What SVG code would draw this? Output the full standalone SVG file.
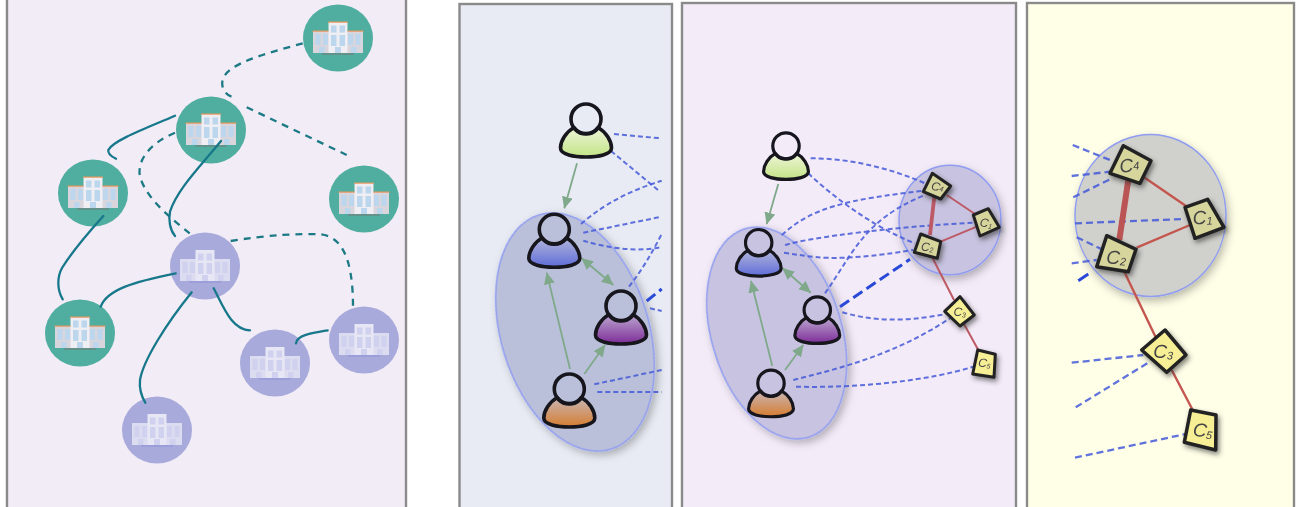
<svg xmlns="http://www.w3.org/2000/svg" width="1298" height="507" viewBox="0 0 1298 507">
<style>
.panel{stroke:#8a8a8a;stroke-width:2.4}
.teal{fill:#4fae9f}.lilac{fill:#a7aadb}
.solid{fill:none;stroke:#17788a;stroke-width:2.3;stroke-linecap:round}
.dash{fill:none;stroke:#1d7a85;stroke-width:2.3;stroke-dasharray:7 6}
.sig{fill:none;stroke:#4459d8;stroke-width:2;stroke-dasharray:5 3;opacity:.85}
.sig2{stroke-width:2.3;stroke-dasharray:7 4}
.thick{fill:none;stroke:#2a49d8;stroke-width:3;stroke-dasharray:11 5}
.arrow{stroke:#7fa98a;stroke-width:1.8;fill:none}
.rel{stroke:#bd5a66;stroke-width:2;fill:none}
.rel4{stroke:#c4574f;stroke-width:2.4;fill:none}
.body,.head{stroke:#15151f;stroke-width:3.6;stroke-linejoin:round}
.head{fill:none}
.cl{stroke:#8f9cf0;stroke-width:1.5;filter:url(#sh)}
.sq{stroke:#222;stroke-linejoin:round;filter:url(#sq)}
.sq.a{fill:#d6d59c}.sq.b{fill:#f6ef96}
.lb{font-family:"Liberation Sans",Arial,sans-serif;font-style:italic;fill:#444;text-anchor:middle}
</style>
<defs>
<filter id="soft" filterUnits="userSpaceOnUse" x="0" y="0" width="1298" height="507"><feGaussianBlur stdDeviation="0.5"/></filter>
<filter id="sh" x="-20%" y="-20%" width="145%" height="145%"><feDropShadow dx="2" dy="4" stdDeviation="4" flood-color="#000" flood-opacity=".28"/></filter>
<filter id="sq" x="-40%" y="-40%" width="190%" height="190%"><feDropShadow dx="2" dy="3" stdDeviation="2.5" flood-color="#333" flood-opacity=".6"/></filter>
<linearGradient id="gG" x1="0" y1="0" x2="0" y2="1"><stop offset="0" stop-color="#eef4d8"/><stop offset="1" stop-color="#c3e486"/></linearGradient>
<linearGradient id="gB" x1="0" y1="0" x2="0" y2="1"><stop offset="0" stop-color="#b2b6da"/><stop offset="1" stop-color="#5e6cd8"/></linearGradient>
<linearGradient id="gP" x1="0" y1="0" x2="0" y2="1"><stop offset="0" stop-color="#bba6cf"/><stop offset="1" stop-color="#7d2c98"/></linearGradient>
<linearGradient id="gO" x1="0" y1="0" x2="0" y2="1"><stop offset="0" stop-color="#c9b6b4"/><stop offset="1" stop-color="#d67d30"/></linearGradient>
<marker id="ah" markerUnits="userSpaceOnUse" markerWidth="13" markerHeight="12" refX="11.5" refY="5.5" orient="auto-start-reverse"><path d="M0,0 L12,5.5 L0,11 Z" fill="#7fa98a"/></marker>
<path id="body" d="M-12,8.5 C-20,13 -25.5,22 -25.5,29 C-25.5,35.5 -12,38 0,38 C12,38 25.5,35.5 25.5,29 C25.5,22 20,13 12,8.5 A15,15 0 0 1 -12,8.5 Z"/>
<circle id="head" r="15"/>
<g id="bldT">
<rect x="-25" y="-7" width="50" height="22" fill="#d8d5dd"/>
<rect x="-9.5" y="-16" width="19" height="31" fill="#efeef3"/>
<rect x="-25.5" y="-7.5" width="16" height="1.2" fill="#e8955a"/><rect x="9.5" y="-7.5" width="16" height="1.2" fill="#e8955a"/><rect x="-10" y="-16.5" width="20" height="1.2" fill="#e8955a"/>
<g fill="#bcd6ee"><rect x="-7" y="-12.5" width="5.5" height="7"/><rect x="1.5" y="-12.5" width="5.5" height="7"/><rect x="-7" y="-3" width="5.5" height="11"/><rect x="1.5" y="-3" width="5.5" height="11"/><rect x="-22.5" y="-4" width="5" height="11"/><rect x="-15" y="-4" width="5" height="11"/><rect x="10" y="-4" width="5" height="11"/><rect x="17.5" y="-4" width="5" height="11"/><rect x="-19" y="9" width="5.5" height="6"/><rect x="-3" y="9" width="6" height="6"/><rect x="13" y="9" width="5.5" height="6"/></g>
<rect x="-16" y="15.5" width="32" height="1" fill="#777"/>
</g>
<g id="bldL">
<rect x="-25" y="-7" width="50" height="22" fill="#dcdcf1"/>
<rect x="-9.5" y="-16" width="19" height="31" fill="#e6e6f5"/>
<g fill="#d0d1ee"><rect x="-7" y="-12.5" width="5.5" height="7"/><rect x="1.5" y="-12.5" width="5.5" height="7"/><rect x="-7" y="-3" width="5.5" height="11"/><rect x="1.5" y="-3" width="5.5" height="11"/><rect x="-22.5" y="-4" width="5" height="11"/><rect x="-15" y="-4" width="5" height="11"/><rect x="10" y="-4" width="5" height="11"/><rect x="17.5" y="-4" width="5" height="11"/><rect x="-19" y="9" width="5.5" height="6"/><rect x="-3" y="9" width="6" height="6"/><rect x="13" y="9" width="5.5" height="6"/></g>
<rect x="-16" y="15.5" width="32" height="1" fill="#8f92d8"/>
</g>
</defs>

<g filter="url(#soft)">
<g id="panels">
<rect class="panel" x="7" y="-6" width="399" height="520" fill="#f2ecf7"/>
<rect class="panel" x="459.5" y="4" width="212.5" height="510" fill="#e8ebf3"/>
<rect class="panel" x="682" y="3" width="334" height="511" fill="#f3ebf8"/>
<rect class="panel" x="1027" y="3" width="267" height="511" fill="#ffffe8"/>
</g>

<g id="clusters">
<ellipse id="cluster-users-a" class="cl" cx="575" cy="332" rx="74" ry="122.5" transform="rotate(-17 575 332)" fill="#bbc0da"/>
<ellipse id="cluster-users-b" class="cl" cx="776.7" cy="333" rx="65" ry="109" transform="rotate(-17 776.7 333)" fill="#c8c3e0"/>
<ellipse id="cluster-c-b" class="cl" cx="950" cy="220" rx="51" ry="54.7" fill="#c8c3e0"/>
<ellipse id="cluster-c-c" class="cl" cx="1150.5" cy="215.5" rx="75.5" ry="81" fill="#d0d1cc"/>
</g>

<g id="server-1" transform="translate(338,38)"><ellipse class="teal" rx="35" ry="33.5"/><use href="#bldT"/></g>
<g id="server-2" transform="translate(211,130)"><ellipse class="teal" rx="35" ry="33.5"/><use href="#bldT"/></g>
<g id="server-3" transform="translate(93,193)"><ellipse class="teal" rx="35" ry="33.5"/><use href="#bldT"/></g>
<g id="server-4" transform="translate(364,199)"><ellipse class="teal" rx="35" ry="33.5"/><use href="#bldT"/></g>
<g id="server-5" transform="translate(80,333)"><ellipse class="teal" rx="35" ry="33.5"/><use href="#bldT"/></g>
<g id="server-6" transform="translate(205,266)"><ellipse class="lilac" rx="35" ry="33.5"/><use href="#bldL"/></g>
<g id="server-7" transform="translate(275,363)"><ellipse class="lilac" rx="35" ry="33.5"/><use href="#bldL"/></g>
<g id="server-8" transform="translate(364,340)"><ellipse class="lilac" rx="35" ry="33.5"/><use href="#bldL"/></g>
<g id="server-9" transform="translate(157,430)"><ellipse class="lilac" rx="35" ry="33.5"/><use href="#bldL"/></g>

<g id="connectors">
<path class="dash" d="M302.7,43.3 C266.7,53.3 226.7,63.3 222.7,80 C220.7,86.7 225,95 231.7,96.7"/>
<path class="dash" d="M246.7,107.3 L346.7,155"/>
<path class="dash" d="M175,132.7 C150,143.3 136.7,160 140,176.7 C146.7,200 173.3,220 191.7,235"/>
<path class="dash" d="M230.7,241 C266.7,235 300,233.3 320,234.3 C340,236 353,255 353,306.7"/>
<path class="solid" d="M175,115.7 C150,126.7 113.3,140 108.3,150 C107.7,154 111.7,156.7 116,158.7"/>
<path class="solid" d="M221,141 C200,166.7 176.7,190 170,211.7 C168.3,220 170,230 175,236"/>
<path class="solid" d="M103.3,216 C88,233 70,255 62,268 C57,277 57,290 62.7,299.3"/>
<path class="solid" d="M175.7,273.3 C133.3,281.7 106.7,290 100.7,306.7"/>
<path class="solid" d="M191.7,292.3 C166.7,323.3 143.3,360 140,380 C139,390 141.7,396.7 145.3,402.7"/>
<path class="solid" d="M213.7,288.3 C223.3,306.7 231.7,330 250,330.3"/>
<path class="solid" d="M327.7,330.3 C313.3,332.7 296.7,335 296,343.3"/>

<path class="arrow" marker-end="url(#ah)" d="M577,163.3 L564.3,208.3"/>
<path class="arrow" marker-end="url(#ah)" d="M570,369 L546.7,272.7"/>
<path class="arrow" marker-end="url(#ah)" d="M584.3,374 L605,345"/>
<path class="arrow" marker-start="url(#ah)" marker-end="url(#ah)" d="M581.7,258.3 L613.3,285"/>
<path class="sig" d="M614,134 L661,138.3"/>
<path class="sig" d="M611,151 L660,191.7"/>
<path class="sig" d="M581,224 C605,203 632,190 661.7,180.7"/>
<path class="sig" d="M583.3,232.7 L661.7,216.7"/>
<path class="sig" d="M583.3,240.7 C605,247 635,253 661.7,247"/>
<path class="sig" d="M629,286.7 C642,270 652,253 661.7,234"/>
<path class="thick" d="M646.7,301 L661.7,289"/>
<path class="sig" d="M650,308.3 L661.7,311"/>
<path class="sig" d="M594.3,384.3 L661.7,370"/>
<path class="sig" d="M597.3,392 L661.7,392"/>

<path class="arrow" marker-end="url(#ah)" d="M778.3,184 L766.7,224"/>
<path class="arrow" marker-end="url(#ah)" d="M772.3,366 L751,281"/>
<path class="arrow" marker-end="url(#ah)" d="M785,370 L803.3,345"/>
<path class="arrow" marker-start="url(#ah)" marker-end="url(#ah)" d="M782.7,268.3 L810.7,292.7"/>
<path class="sig" d="M810.7,158.3 C846.7,158.3 886.7,166.7 925,183.3"/>
<path class="sig" d="M808.3,173.3 C840,203.3 880,230 915,243.3"/>
<path class="sig" d="M781.7,235 C813.3,206.7 846.7,200 923.3,190.7"/>
<path class="sig" d="M785,245 C813.3,236.7 896.7,226.7 973.3,222.7"/>
<path class="sig" d="M784,252.7 C813.3,256.7 830,263.3 913.3,250"/>
<path class="sig" d="M825,293.3 C853.3,253.3 863.3,220 925,195"/>
<path class="thick" d="M840,306.7 L910,259.3"/>
<path class="sig" d="M842.3,312.3 C880,323.3 913.3,320 945,314.3"/>
<path class="sig" d="M793.3,380 C846.7,366.7 896.7,353.3 950,318.3"/>
<path class="sig" d="M796,386.7 C863.3,388.3 930,380 973.3,366.7"/>
<path class="rel" style="stroke-width:3.8" d="M934.3,196.7 L930,235"/>
<path class="rel" d="M946.7,195 L975,214"/>
<path class="rel" d="M940.7,241.7 L976.7,226.7"/>
<path class="rel" d="M932.7,258.3 L954,300"/>
<path class="rel" d="M964,324 L978.3,350"/>

<path class="sig sig2" d="M1072.7,145 L1110,160"/>
<path class="sig sig2" d="M1071.7,176 L1110,171.7"/>
<path class="sig sig2" d="M1073.3,197.3 L1110,179.3"/>
<path class="sig sig2" d="M1075,223.3 L1185,219"/>
<path class="sig sig2" d="M1076.7,237.3 L1103.3,250"/>
<path class="sig sig2" d="M1071.7,263.3 L1096.7,260"/>
<path class="thick" style="stroke-dasharray:none" d="M1078.3,280.7 L1088.3,274"/>
<path class="sig sig2" d="M1071.7,362.7 L1143.3,355"/>
<path class="sig sig2" d="M1075.7,407.3 L1148.3,362.7"/>
<path class="sig sig2" d="M1075,457.7 L1185.7,434"/>
<path class="rel4" style="stroke-width:6;stroke:#bb5555" d="M1128.3,180 L1119.3,240"/>
<path class="rel4" d="M1143.3,176.7 L1186,206"/>
<path class="rel4" d="M1136.7,247.7 L1190,225"/>
<path class="rel4" d="M1124.3,271.7 L1155.7,337.3"/>
<path class="rel4" d="M1171.7,370 L1192.3,409.3"/>
</g>

<g id="user-a-green" transform="translate(586,119)"><use href="#body" class="body" fill="url(#gG)"/><use href="#head" class="head"/></g>
<g id="user-a-blue" transform="translate(554.3,229.3)"><use href="#body" class="body" fill="url(#gB)"/><use href="#head" class="head"/></g>
<g id="user-a-purple" transform="translate(621,306)"><use href="#body" class="body" fill="url(#gP)"/><use href="#head" class="head"/></g>
<g id="user-a-orange" transform="translate(569.3,389)"><use href="#body" class="body" fill="url(#gO)"/><use href="#head" class="head"/></g>
<g id="user-b-green" transform="translate(786,146) scale(.88)"><use href="#body" class="body" fill="url(#gG)"/><use href="#head" class="head"/></g>
<g id="user-b-blue" transform="translate(758.7,242.7) scale(.88)"><use href="#body" class="body" fill="url(#gB)"/><use href="#head" class="head"/></g>
<g id="user-b-purple" transform="translate(817.3,310) scale(.88)"><use href="#body" class="body" fill="url(#gP)"/><use href="#head" class="head"/></g>
<g id="user-b-orange" transform="translate(771,383.3) scale(.88)"><use href="#body" class="body" fill="url(#gO)"/><use href="#head" class="head"/></g>

<g id="b-c4"><polygon class="sq a" stroke-width="3" points="932.3,173.3 950.7,186 940.7,199 923.3,191.7"/><text class="lb" font-size="12" transform="translate(936.5,191) rotate(15)">C<tspan font-size="7" dy="-1">4</tspan></text></g>
<g id="b-c1"><polygon class="sq a" stroke-width="3" points="988.3,208.7 999.3,227.3 980,236 973.3,215"/><text class="lb" font-size="12" transform="translate(985.5,227) rotate(10)">C<tspan font-size="7" dy="1">1</tspan></text></g>
<g id="b-c2"><polygon class="sq a" stroke-width="3" points="920.7,234 940.7,241.7 937.3,258.3 914.3,252.3"/><text class="lb" font-size="12" transform="translate(927,251) rotate(5)">C<tspan font-size="7" dy="1">2</tspan></text></g>
<g id="b-c3"><polygon class="sq b" stroke-width="3" points="960,296.7 974.3,315 960,326 944.7,311.3"/><text class="lb" font-size="12" transform="translate(959.5,316) rotate(5)">C<tspan font-size="7" dy="1">3</tspan></text></g>
<g id="b-c5"><polygon class="sq b" stroke-width="3" points="977.7,350 995.3,354.3 994,377.3 972.7,374"/><text class="lb" font-size="12" transform="translate(984,367) rotate(8)">C<tspan font-size="7" dy="1">5</tspan></text></g>

<g id="c-c4"><polygon class="sq a" stroke-width="3.5" points="1123.3,145.7 1151,160.7 1140,183.3 1110,173.3"/><text class="lb" font-size="19" transform="translate(1130,172) rotate(-5)">C<tspan font-size="11" dy="-2">4</tspan></text></g>
<g id="c-c1"><polygon class="sq a" stroke-width="3.5" points="1207.7,199.3 1224,227.3 1195,238.3 1185,207.3"/><text class="lb" font-size="19" transform="translate(1203,224) rotate(-3)">C<tspan font-size="11" dy="1">1</tspan></text></g>
<g id="c-c2"><polygon class="sq a" stroke-width="3.5" points="1106.7,235.7 1136,249.3 1128.3,271.7 1096.7,266.7"/><text class="lb" font-size="19" transform="translate(1116,264) rotate(3)">C<tspan font-size="11" dy="1">2</tspan></text></g>
<g id="c-c3"><polygon class="sq b" stroke-width="3.5" points="1165,330 1186,355 1166.7,372.3 1141.7,350"/><text class="lb" font-size="19" transform="translate(1163,358) rotate(3)">C<tspan font-size="11" dy="1">3</tspan></text></g>
<g id="c-c5"><polygon class="sq b" stroke-width="3.5" points="1190.7,410 1216,415 1215.7,450 1184.3,442.3"/><text class="lb" font-size="19" transform="translate(1202,437) rotate(8)">C<tspan font-size="11" dy="1">5</tspan></text></g>
</g>
</svg>
